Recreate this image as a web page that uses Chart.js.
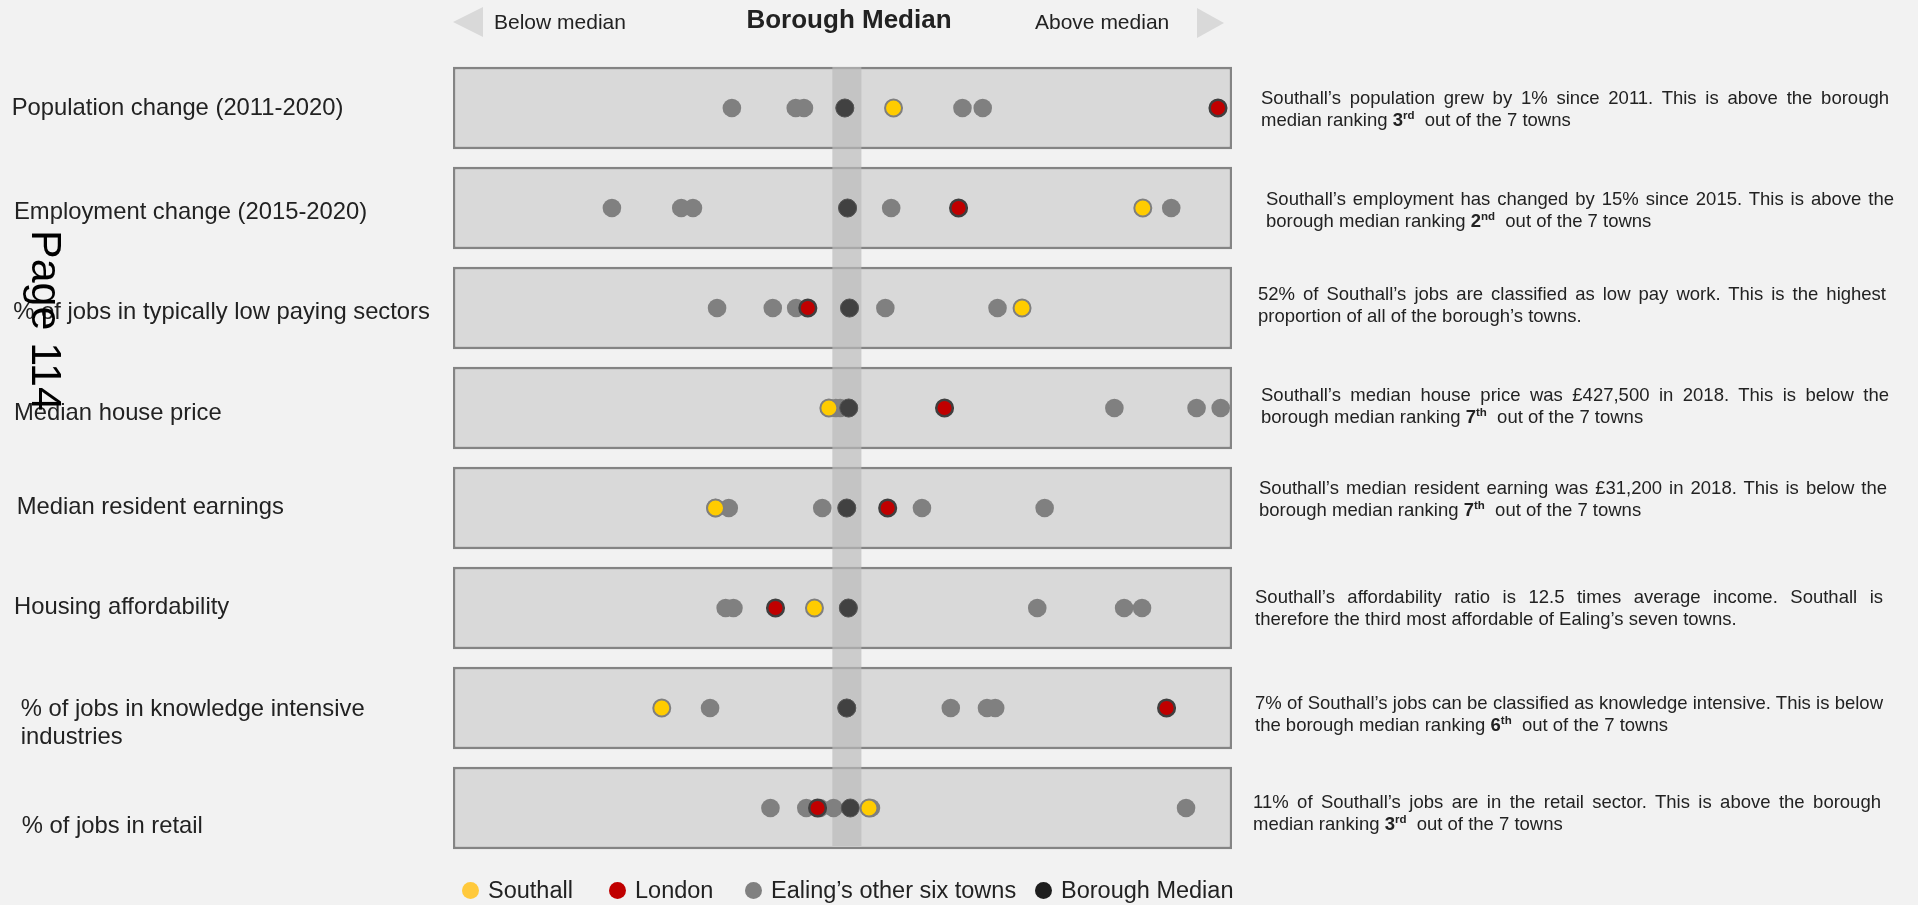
<!DOCTYPE html>
<html>
<head>
<meta charset="utf-8">
<script src="https://cdn.jsdelivr.net/npm/chart.js@4.4.1/dist/chart.umd.min.js"></script>
<style>
  html, body { margin: 0; padding: 0; background: #f2f2f2; }
  body { width: 1918px; height: 905px; position: relative; overflow: hidden;
         font-family: "Liberation Sans", Arial, sans-serif; color: #222; }
  #wrap { position: absolute; left: 0; top: 0; width: 1918px; height: 905px; }
  .hdr { position: absolute; top: 9px; font-size: 21px; line-height: 26px; white-space: nowrap; }
  .hdr.main { top: 4px; left: 849px; transform: translateX(-50%); font-size: 26px; line-height: 30px; font-weight: bold; }
  .tri { position: absolute; width: 0; height: 0; border-top: 15px solid transparent; border-bottom: 15px solid transparent; }
  .tri.l { left: 453px; top: 7px; border-right: 30px solid #d9d9d9; }
  .tri.r { left: 1197px; top: 8px; border-left: 27px solid #d9d9d9; }
  .note { position: absolute; width: 628px; font-size: 18.5px; line-height: 22px; }
  .note .l1 { text-align: justify; text-align-last: justify; white-space: nowrap; }
  .note sup { font-size: 11.5px; line-height: 0; vertical-align: 7px; }
  .leg { position: absolute; top: 876px; font-size: 23.5px; line-height: 28px; white-space: nowrap; }
  .leg i { position: absolute; left: 0; top: 6px; width: 17px; height: 17px; border-radius: 50%; }
  .leg span { position: absolute; left: 26px; top: 0; }
  #page { position: absolute; left: 0; top: 0; font-size: 43px; line-height: 43px; color: #000;
          white-space: nowrap; transform-origin: 0 0; transform: translate(68px, 230px) rotate(90deg); }
</style>
</head>
<body>
<div id="wrap"><canvas id="chart"></canvas></div>

<div class="tri l"></div>
<div class="hdr" style="left:494px">Below median</div>
<div class="hdr main">Borough Median</div>
<div class="hdr" style="left:1035px">Above median</div>
<div class="tri r"></div>

<div class="note" style="left:1261px;top:87px"><div class="l1">Southall’s population grew by 1% since 2011. This is above the borough</div><div>median ranking <b>3<sup>rd</sup></b>&nbsp; out of the 7 towns</div></div>
<div class="note" style="left:1266px;top:188px"><div class="l1">Southall’s employment has changed by 15% since 2015. This is above the</div><div>borough median ranking <b>2<sup>nd</sup></b>&nbsp; out of the 7 towns</div></div>
<div class="note" style="left:1258px;top:283px"><div class="l1">52% of Southall’s jobs are classified as low pay work. This is the highest</div><div>proportion of all of the borough’s towns.</div></div>
<div class="note" style="left:1261px;top:384px"><div class="l1">Southall’s median house price was £427,500 in 2018. This is below the</div><div>borough median ranking <b>7<sup>th</sup></b>&nbsp; out of the 7 towns</div></div>
<div class="note" style="left:1259px;top:477px"><div class="l1">Southall’s median resident earning was £31,200 in 2018. This is below the</div><div>borough median ranking <b>7<sup>th</sup></b>&nbsp; out of the 7 towns</div></div>
<div class="note" style="left:1255px;top:586px"><div class="l1">Southall’s affordability ratio is 12.5 times average income. Southall is</div><div>therefore the third most affordable of Ealing’s seven towns.</div></div>
<div class="note" style="left:1255px;top:692px"><div class="l1">7% of Southall’s jobs can be classified as knowledge intensive. This is below</div><div>the borough median ranking <b>6<sup>th</sup></b>&nbsp; out of the 7 towns</div></div>
<div class="note" style="left:1253px;top:791px"><div class="l1">11% of Southall’s jobs are in the retail sector. This is above the borough</div><div>median ranking <b>3<sup>rd</sup></b>&nbsp; out of the 7 towns</div></div>

<div id="legend"></div>
<div id="page">Page 114</div>

<script>
// rows of the chart, top to bottom
const categories = [
    'Population change (2011-2020)',
    'Employment change (2015-2020)',
    '% of jobs in typically low paying sectors',
    'Median house price',
    'Median resident earnings',
    'Housing affordability',
    ['% of jobs in knowledge intensive', 'industries'],
    '% of jobs in retail'
];

// position relative to the borough median (0), one value per row
const southall = [12.1, 76.1, 45.1, -4.5, -33.6, -8.2, -47.4, 5.8];
const london = [95.4, 28.8, -9.9, 25.2, 10.6, -18.2, 82.2, -7.4];
const boroughMedian = [-0.4, 0.3, 0.8, 0.6, 0.1, 0.5, 0.1, 1.0];
const otherTowns = [
    [-29.4, -13.0, -10.9, -0.4, 29.8, 35.0],
    [-60.2, -42.4, -39.4, 0.3, 11.5, 83.4],
    [-33.2, -18.9, -12.9, 0.8, 10.0, 38.8],
    [-2.7, -1.6, 0.6, 68.8, 89.9, 96.1],
    [-33.6, -30.2, -6.2, 0.1, 19.4, 50.9],
    [-31.0, -29.0, 0.5, 49.0, 71.3, 75.9],
    [-35.0, 0.1, 0.1, 26.8, 36.1, 38.2],
    [-19.5, -10.3, -6.8, -3.3, 6.3, 87.2]
];

const seriesNames = ['Southall', 'London', 'Ealing’s other six towns', 'Borough Median'];
const legendColors = ['#ffc93c', '#c00000', '#808080', '#1e1e1e'];
const legendLeft = [462, 609, 745, 1035];

const axisMin = -101;
const axisMax = 99;

const toPoints = vals => vals.map((v, i) => ({x: v, y: categories[i]}));
const otherPoints = otherTowns.flatMap((row, i) => row.map(v => ({x: v, y: categories[i]})));

// light grey band behind the median dots
const medianBand = {
    id: 'medianBand',
    afterDatasetDraw(chart, args, opts) {
        if (args.index !== chart.data.datasets.length - 1) return;
        const {ctx, scales: {x, y}} = chart;
        const left = x.getPixelForValue(opts.from);
        const right = x.getPixelForValue(opts.to);
        const top = y.getPixelForValue(0) - opts.half;
        const bottom = y.getPixelForValue(categories.length - 1) + opts.half - 3;
        ctx.save();
        ctx.fillStyle = opts.color;
        ctx.fillRect(left, top, right - left, bottom - top);
        ctx.restore();
    }
};

// row names on the left, placed from the y scale (the labels sit a little off-centre in the original)
const rowLabels = {
    id: 'rowLabels',
    afterDraw(chart, args, opts) {
        const {ctx, scales: {y}} = chart;
        ctx.save();
        ctx.font = opts.size + 'px "Liberation Sans", Arial, sans-serif';
        ctx.fillStyle = opts.color;
        ctx.textAlign = 'left';
        ctx.textBaseline = 'alphabetic';
        y.getLabels().forEach((label, i) => {
            const lines = [].concat(label);
            const cy = y.getPixelForValue(i) + opts.dy[i] + opts.size * 0.358;
            lines.forEach((line, k) => {
                ctx.fillText(line, y.left + opts.dx[i], cy + k * opts.lineHeight);
            });
        });
        ctx.restore();
    }
};

Chart.defaults.font.family = '"Liberation Sans", Arial, sans-serif';

const ctx = document.getElementById('chart').getContext('2d');
const chart = new Chart(ctx, {
    type: 'bar',
    data: {
        labels: categories,
        datasets: [
            {
                type: 'scatter',
                label: seriesNames[0],
                data: toPoints(southall),
                pointBackgroundColor: '#ffcc00',
                pointBorderColor: '#7f7f7f',
                pointBorderWidth: 2,
                pointRadius: 8.5
            },
            {
                type: 'scatter',
                label: seriesNames[1],
                data: toPoints(london),
                pointBackgroundColor: '#c00000',
                pointBorderColor: '#3f3f3f',
                pointBorderWidth: 2.5,
                pointRadius: 8.3
            },
            {
                type: 'scatter',
                label: seriesNames[3],
                data: toPoints(boroughMedian),
                pointBackgroundColor: '#414141',
                pointBorderColor: '#555555',
                pointBorderWidth: 1,
                pointRadius: 9
            },
            {
                type: 'scatter',
                label: seriesNames[2],
                data: otherPoints,
                pointBackgroundColor: '#808080',
                pointBorderWidth: 0,
                pointRadius: 9.3
            },
            {
                type: 'bar',
                label: 'panel',
                data: categories.map(() => [axisMin, axisMax]),
                backgroundColor: '#d9d9d9',
                borderColor: '#848484',
                borderWidth: 2.5,
                borderSkipped: false,
                barThickness: 82
            }
        ]
    },
    options: {
        indexAxis: 'y',
        responsive: true,
        maintainAspectRatio: false,
        animation: false,
        events: [],
        layout: {
            padding: {left: 14, right: 686, top: 58, bottom: 47}
        },
        scales: {
            x: {
                type: 'linear',
                min: axisMin,
                max: axisMax,
                display: false
            },
            y: {
                type: 'category',
                offset: true,
                grid: {display: false},
                border: {display: false},
                ticks: {display: false},
                afterFit(scale) {
                    scale.width = 439;
                }
            }
        },
        plugins: {
            legend: {display: false},
            tooltip: {enabled: false},
            medianBand: {from: -3.6, to: 3.85, half: 41, color: 'rgba(185,185,185,0.68)'},
            rowLabels: {
                size: 23.8,
                lineHeight: 28,
                color: '#222',
                dx: [-2.3, 0, -0.7, 0, 2.7, 0, 6.7, 7.7],
                dy: [-1.3, 2, 2.5, 3.7, -3, -2.7, -1, 16.7]
            }
        }
    },
    plugins: [medianBand, rowLabels]
});

// legend under the chart
const legend = document.getElementById('legend');
seriesNames.forEach((name, i) => {
    const item = document.createElement('div');
    item.className = 'leg';
    item.style.left = legendLeft[i] + 'px';
    item.innerHTML = '<i style="background:' + legendColors[i] + '"></i><span>' + name + '</span>';
    legend.appendChild(item);
});
</script>
</body>
</html>
